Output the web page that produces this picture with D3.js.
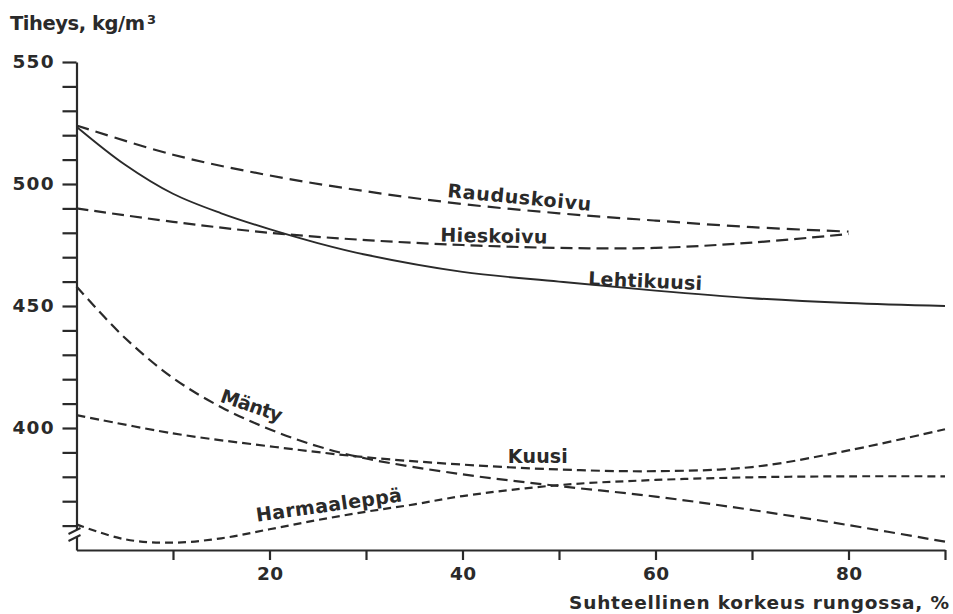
<!DOCTYPE html>
<html>
<head>
<meta charset="utf-8">
<script src="https://cdn.jsdelivr.net/npm/d3@7"></script>
<style>
  html, body { margin: 0; padding: 0; background: #fff; }
  svg text { font-family: "DejaVu Sans", sans-serif; font-weight: bold; fill: #2a2a2a; }
</style>
</head>
<body>
<svg id="chart" width="953" height="614"></svg>
<script>
// Wood density (kg/m3) along relative stem height (%) by tree species
const rauduskoivu = [[0,524],[10,512],[20,503.5],[30,497],[40,491.8],[50,488],[60,485],[70,482.3],[80,480.5]];
const hieskoivu   = [[0,490],[10,484.5],[20,480],[30,477],[40,475],[50,473.8],[60,473.8],[70,476],[80,479.5]];
const lehtikuusi  = [[0,523.5],[5,508],[10,496],[15,488],[20,481.5],[25,475.8],[30,471],[40,464],[50,460],[60,456.3],[70,453.2],[80,451.2],[90,450]];
const manty       = [[0,458],[5,437],[10,420.5],[15,408.5],[20,399.5],[25,392.5],[30,387.5],[40,381],[50,376.2],[60,371.9],[70,366.4],[80,360.2],[90,353.4]];
const kuusi       = [[0,405.3],[10,397.8],[20,392.5],[30,388],[40,385],[50,383],[60,382.3],[70,384],[80,390.8],[90,399.5]];
const harmaaleppa = [[0,360.5],[5,354.4],[10,353],[15,354.8],[20,358.5],[25,362.3],[30,365.7],[35,368.7],[40,372.1],[50,376.6],[60,378.7],[70,379.8],[80,380.2],[90,380.2]];

const seriesNames = ["Rauduskoivu", "Hieskoivu", "Lehtikuusi", "Mänty", "Kuusi", "Harmaaleppä"];
const seriesData  = [rauduskoivu, hieskoivu, lehtikuusi, manty, kuusi, harmaaleppa];

const yTicks = d3.range(360, 551, 10);
const yTickLabels = [400, 450, 500, 550];
const xTicks = d3.range(10, 91, 10);
const xTickLabels = [20, 40, 60, 80];

const yTitle = "Tiheys, kg/m";
const yTitleSup = "3";
const xTitle = "Suhteellinen korkeus rungossa, %";

// Line styles and label placement (label anchor in data units)
const styles = {
  "Rauduskoivu": { dash: "13,7", lx: 38.4, ly: 494.7, rot: 5.5, len: 144 },
  "Hieskoivu":   { dash: "12,6", lx: 37.7, ly: 476.4, rot: 1,   len: 107 },
  "Lehtikuusi":  { dash: null,   lx: 53.0, ly: 458.6, rot: 2.5, len: 114 },
  "Mänty":       { dash: "11,6", lx: 14.8, ly: 410.9, rot: 19,  len: 64 },
  "Kuusi":       { dash: "9,5",  lx: 44.7, ly: 385.7, rot: 0,   len: 60 },
  "Harmaaleppä": { dash: "8,5",  lx: 18.7, ly: 361.6, rot: -8,  len: 147 }
};

const svg = d3.select("#chart");
const x = d3.scaleLinear().domain([0, 90]).range([76.5, 945]);
const y = d3.scaleLinear().domain([350, 550]).range([550, 62]);
const ink = "#2a2a2a";

// Y axis
const yAxis = svg.append("g")
  .attr("transform", `translate(${x(0)},0)`)
  .call(d3.axisLeft(y).tickValues(yTicks).tickSize(14).tickSizeOuter(0).tickPadding(9)
    .tickFormat(d => yTickLabels.includes(d) ? d : ""));
yAxis.select(".domain").attr("stroke", ink).attr("stroke-width", 2.2);
yAxis.selectAll(".tick line").attr("stroke", ink).attr("stroke-width", 2.2);
yAxis.selectAll(".tick text").attr("font-size", 18.5)
  .filter(d => yTickLabels.includes(d)).attr("textLength", 41).attr("lengthAdjust", "spacing");

// X axis
const xAxis = svg.append("g")
  .attr("transform", `translate(0,${y(350)})`)
  .call(d3.axisBottom(x).tickValues(xTicks).tickSize(10).tickSizeOuter(0).tickPadding(7)
    .tickFormat(d => xTickLabels.includes(d) ? d : ""));
xAxis.select(".domain").attr("stroke", ink).attr("stroke-width", 2.2);
xAxis.selectAll(".tick line").attr("stroke", ink).attr("stroke-width", 2.2);
xAxis.selectAll(".tick text").attr("font-size", 18.5)
  .filter(d => xTickLabels.includes(d)).attr("textLength", 26).attr("lengthAdjust", "spacing");

// Axis break marks near the bottom of the y axis
const bx = x(0);
svg.append("rect").attr("x", bx - 3).attr("y", 530).attr("width", 6).attr("height", 7).attr("fill", "#fff");
[[534, 528], [541, 535]].forEach(([y1, y2]) => {
  svg.append("line")
    .attr("x1", bx - 8).attr("y1", y1).attr("x2", bx + 4).attr("y2", y2)
    .attr("stroke", ink).attr("stroke-width", 2);
});

// Curves
const line = d3.line().x(d => x(d[0])).y(d => y(d[1])).curve(d3.curveCatmullRom.alpha(0.5));
seriesNames.forEach((name, i) => {
  const s = styles[name];
  svg.append("path")
    .datum(seriesData[i])
    .attr("d", line)
    .attr("fill", "none")
    .attr("stroke", ink)
    .attr("stroke-width", s.dash ? 2.2 : 1.9)
    .attr("stroke-dasharray", s.dash);
  svg.append("text")
    .attr("transform", `translate(${x(s.lx)},${y(s.ly)}) rotate(${s.rot})`)
    .attr("font-size", 19)
    .attr("textLength", s.len)
    .attr("lengthAdjust", "spacing")
    .text(name);
});

// Axis titles
svg.append("text").attr("x", 10).attr("y", 30).attr("font-size", 19.5)
  .attr("textLength", 135).attr("lengthAdjust", "spacing").text(yTitle);
svg.append("text").attr("x", 147).attr("y", 24).attr("font-size", 13).text(yTitleSup);
svg.append("text").attr("x", 569).attr("y", 609).attr("font-size", 18.5)
  .attr("textLength", 380).attr("lengthAdjust", "spacing").text(xTitle);
</script>
</body>
</html>
